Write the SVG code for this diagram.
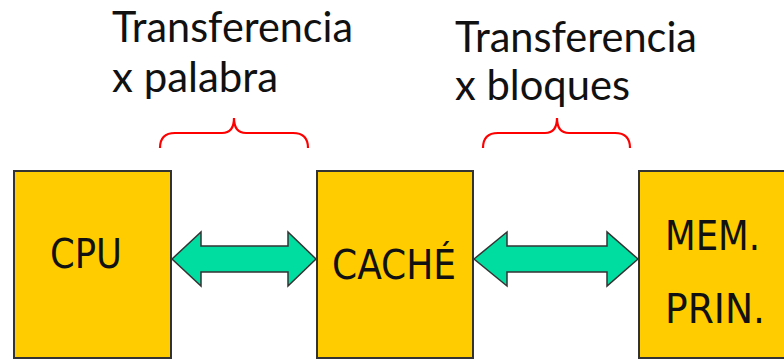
<svg xmlns="http://www.w3.org/2000/svg" width="784" height="360" viewBox="0 0 784 360">
<style>
.box{fill:#FFCC00;stroke:#333;stroke-width:2}
.arr{fill:#00DDA0;stroke:#333;stroke-width:1.5;stroke-linejoin:miter}
.brace{fill:none;stroke:#FF0000;stroke-width:2.2}
.bt{font-family:"DejaVu Sans Condensed","DejaVu Sans",sans-serif;font-size:40px;fill:#111}
.lt{font-family:Lato,"Liberation Sans",sans-serif;font-size:42px;fill:#111}
</style>
<rect width="784" height="360" fill="#fff"/>
<g id="labels">
<text class="lt" x="112" y="42" textLength="241" lengthAdjust="spacingAndGlyphs">Transferencia</text>
<text class="lt" x="112" y="92" textLength="166" lengthAdjust="spacingAndGlyphs">x palabra</text>
<text class="lt" x="455" y="52" textLength="242" lengthAdjust="spacingAndGlyphs">Transferencia</text>
<text class="lt" x="455" y="100" textLength="175" lengthAdjust="spacingAndGlyphs">x bloques</text>
<path class="brace" d="M160,148 Q160,133 175,133 L222,133 Q234,133 234,118 Q234,133 246,133 L293,133 Q308,133 308,148"/>
<path class="brace" d="M483,148 Q483,133 498,133 L545,133 Q557,133 557,118 Q557,133 569,133 L615,133 Q630,133 630,148"/>
</g>
<g id="cpu">
<rect class="box" x="14" y="171" width="157" height="187"/>
<text class="bt" x="50" y="268" textLength="72" lengthAdjust="spacingAndGlyphs">CPU</text>
</g>
<g id="cache">
<rect class="box" x="317" y="171" width="156" height="187"/>
<text class="bt" x="332" y="279" textLength="124" lengthAdjust="spacingAndGlyphs">CACHÉ</text>
</g>
<g id="mem">
<rect class="box" x="639" y="171" width="160" height="187"/>
<text class="bt" x="665" y="250" textLength="95" lengthAdjust="spacingAndGlyphs">MEM.</text>
<text class="bt" x="665" y="323" textLength="100" lengthAdjust="spacingAndGlyphs">PRIN.</text>
</g>
<g id="connectors">
<polygon class="arr" points="172,259 201,232 201,246 288,246 288,232 316,259 288,286 288,272 201,272 201,286"/>
<polygon class="arr" points="474,259 507,232 507,246 607,246 607,232 638,259 607,286 607,272 507,272 507,286"/>
</g>
</svg>
